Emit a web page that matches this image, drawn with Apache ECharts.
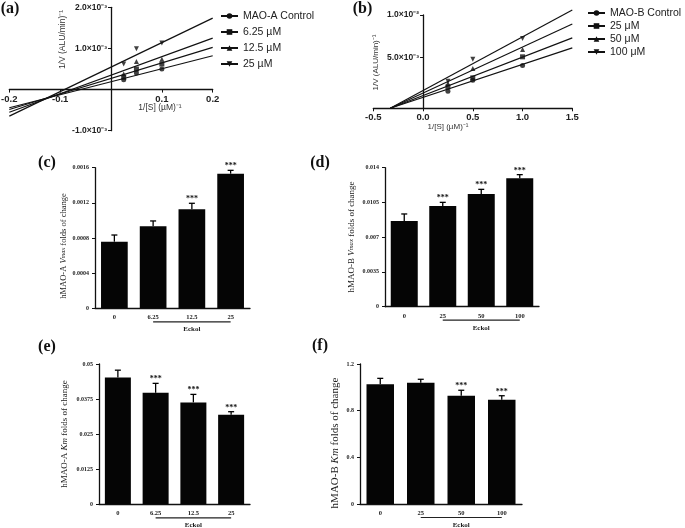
<!DOCTYPE html>
<html><head><meta charset="utf-8">
<script src="https://cdn.jsdelivr.net/npm/echarts@6/dist/echarts.min.js"></script>
<style>html,body{margin:0;padding:0;background:#fff}#c{width:685px;height:528px}</style>
</head><body><div id="c"></div>
<script>
// ---------- Panel (a): Lineweaver-Burk, MAO-A ----------
const aNames = ['MAO-A Control', '6.25 µM', '12.5 µM', '25 µM'];
const aX = [0.025, 0.05, 0.1];
const aPoints = [
  [0.00024, 0.00040, 0.00050],
  [0.00030, 0.00050, 0.00062],
  [0.00038, 0.000685, 0.00074],
  [0.00062, 0.00099, 0.00113]
];
const aFitX = [-0.2, 0.2];
const aFitY = [
  [-0.000443, 0.000823],
  [-0.000484, 0.001024],
  [-0.00055, 0.001252],
  [-0.000646, 0.001736]
];
const aXRange = [-0.2, 0.2];
const aYRange = [-0.001, 0.002];
const aXTickValues = [-0.2, -0.1, 0.1, 0.2];
const aXTickLabels = ['-0.2', '-0.1', '0.1', '0.2'];
const aYTickValues = [-0.001, 0.001, 0.002];
const aYTickLabels = ['-1.0×10⁻³', '1.0×10⁻³', '2.0×10⁻³'];

// ---------- Panel (b): Lineweaver-Burk, MAO-B ----------
const bNames = ['MAO-B Control', '25 μM', '50 μM', '100 μM'];
const bX = [0.25, 0.5, 1.0];
const bPoints = [
  [0.00102, 0.00231, 0.00405],
  [0.00152, 0.00259, 0.00507],
  [0.00192, 0.00370, 0.00594],
  [0.00220, 0.00477, 0.00724]
];
const bFitX = [-0.33, 1.5];
const bFitY = [
  [-0.001, 0.00613],
  [-0.001, 0.00731],
  [-0.001, 0.00893],
  [-0.001, 0.01058]
];
const bXRange = [-0.5, 1.5];
const bYRange = [-0.001, 0.01];
const bXTickValues = [-0.5, 0, 0.5, 1.0, 1.5];
const bXTickLabels = ['-0.5', '0.0', '0.5', '1.0', '1.5'];
const bYTickValues = [0.005, 0.01];
const bYTickLabels = ['5.0×10⁻³', '1.0×10⁻²'];

// ---------- Panels (c)-(f): bar charts ----------
const cCats = ['0', '6.25', '12.5', '25'];
const cVals = [0.000758, 0.000933, 0.001127, 0.001532];
const cErr  = [0.000834, 0.000994, 0.001195, 0.00157];
const cSig  = ['', '', '***', '***'];
const cYTicks = ['0', '0.0004', '0.0008', '0.0012', '0.0016'];

const dCats = ['0', '25', '50', '100'];
const dVals = [0.00863, 0.01014, 0.01135, 0.01293];
const dErr  = [0.00934, 0.01051, 0.01182, 0.0133];
const dSig  = ['', '***', '***', '***'];
const dYTicks = ['0', '0.0035', '0.007', '0.0105', '0.014'];

const eCats = ['0', '6.25', '12.5', '25'];
const eVals = [0.04523, 0.03974, 0.03632, 0.0319];
const eErr  = [0.0478, 0.0431, 0.03917, 0.033];
const eSig  = ['', '***', '***', '***'];
const eYTicks = ['0', '0.0125', '0.025', '0.0375', '0.05'];

const fCats = ['0', '25', '50', '100'];
const fVals = [1.026, 1.04, 0.928, 0.894];
const fErr  = [1.077, 1.069, 0.975, 0.928];
const fSig  = ['', '', '***', '***'];
const fYTicks = ['0', '0.4', '0.8', '1.2'];

const groupSpan = [1, 3];
const groupLabel = 'Eckol';

// ---------- helpers ----------
const SANS = 'Liberation Sans';
const SERIF = 'Liberation Serif';
const INK = '#111';
const syms = ['circle', 'rect', 'triangle', 'path://M0,0L10,0L5,9Z'];

function lookup(values, labels) {
  return function (v) {
    for (let k = 0; k < values.length; k++) if (Math.abs(values[k] - v) < 1e-9) return labels[k];
    return '';
  };
}

const grids = [
  { left: 9.3, top: 7.3, width: 203.4, height: 123.4 },   // a
  { left: 373.3, top: 15, width: 199, height: 93.3 },      // b
  { left: 95, top: 167.7, width: 155, height: 140.6 },     // c
  { left: 385, top: 167.7, width: 154, height: 139 },      // d
  { left: 99, top: 364, width: 151, height: 140.3 },       // e
  { left: 360, top: 364, width: 162, height: 140 }         // f
].map(function (g) { return Object.assign({ outerBoundsMode: 'none', containLabel: false }, g); });

// offset that puts an axis through the value 0 of the crossing axis
function zeroOffset(len, range) { return -len * (0 - range[0]) / (range[1] - range[0]); }

const lineAxis = { lineStyle: { color: INK, width: 1.3 } };

const xAxes = [
  { gridIndex: 0, type: 'value', min: aXRange[0], max: aXRange[1], interval: 0.1, position: 'bottom',
    offset: zeroOffset(grids[0].height, aYRange),
    axisLine: Object.assign({ show: true, onZero: false }, lineAxis),
    axisTick: { show: true, length: 3, lineStyle: { color: INK } },
    axisLabel: { formatter: lookup(aXTickValues, aXTickLabels), fontFamily: SANS, fontWeight: 'bold', fontSize: 9.5, color: '#222', margin: 5 },
    splitLine: { show: false } },
  { gridIndex: 1, type: 'value', min: bXRange[0], max: bXRange[1], interval: 0.5, position: 'bottom',
    axisLine: Object.assign({ show: true, onZero: false }, lineAxis),
    axisTick: { show: true, length: 3, lineStyle: { color: INK } },
    axisLabel: { formatter: lookup(bXTickValues, bXTickLabels), fontFamily: SANS, fontWeight: 'bold', fontSize: 9.5, color: '#222', margin: 4 },
    splitLine: { show: false } }
];
const yAxes = [
  { gridIndex: 0, type: 'value', min: aYRange[0], max: aYRange[1], interval: 0.001, position: 'left',
    offset: zeroOffset(grids[0].width, aXRange),
    axisLine: Object.assign({ show: true, onZero: false }, lineAxis),
    axisTick: { show: true, length: 3, lineStyle: { color: INK } },
    axisLabel: { formatter: lookup(aYTickValues, aYTickLabels), fontFamily: SANS, fontWeight: 'bold', fontSize: 8.5, color: '#222', margin: 4 },
    splitLine: { show: false } },
  { gridIndex: 1, type: 'value', min: bYRange[0], max: bYRange[1], position: 'left',
    offset: zeroOffset(grids[1].width, bXRange),
    axisLine: Object.assign({ show: true, onZero: false }, lineAxis),
    axisTick: { show: true, length: 3, lineStyle: { color: INK }, customValues: bYTickValues },
    axisLabel: { formatter: lookup(bYTickValues, bYTickLabels), customValues: bYTickValues, fontFamily: SANS, fontWeight: 'bold', fontSize: 8.5, color: '#222', margin: 4 },
    splitLine: { show: false } }
];

const series = [];
const legendA = [], legendB = [];
function addKinetics(names, xs, pts, fitX, fitY, axisIdx, legendList) {
  names.forEach(function (nm, i) {
    legendList.push(nm);
    series.push({
      name: nm, type: 'line', xAxisIndex: axisIdx, yAxisIndex: axisIdx,
      data: fitX.map(function (x, k) { return [x, fitY[i][k]]; }),
      symbol: syms[i], showSymbol: false, clip: false, silent: true,
      lineStyle: { color: INK, width: 1.2 }, itemStyle: { color: INK }
    });
    series.push({
      name: nm + ' data', type: 'scatter', xAxisIndex: axisIdx, yAxisIndex: axisIdx,
      data: xs.map(function (x, k) { return [x, pts[i][k]]; }),
      symbol: syms[i], symbolSize: 5, itemStyle: { color: INK }, silent: true
    });
  });
}
addKinetics(aNames, aX, aPoints, aFitX, aFitY, 0, legendA);
addKinetics(bNames, bX, bPoints, bFitX, bFitY, 1, legendB);

const barPanels = [
  { cats: cCats, vals: cVals, err: cErr, sig: cSig, ticks: cYTicks, max: 0.0016, interval: 0.0004, bw: 26.7 },
  { cats: dCats, vals: dVals, err: dErr, sig: dSig, ticks: dYTicks, max: 0.014, interval: 0.0035, bw: 27 },
  { cats: eCats, vals: eVals, err: eErr, sig: eSig, ticks: eYTicks, max: 0.05, interval: 0.0125, bw: 26 },
  { cats: fCats, vals: fVals, err: fErr, sig: fSig, ticks: fYTicks, max: 1.2, interval: 0.4, bw: 27.5 }
];

barPanels.forEach(function (p, j) {
  const ai = j + 2;
  xAxes.push({ gridIndex: ai, type: 'category', data: p.cats,
    axisLine: Object.assign({ show: true }, lineAxis), axisTick: { show: false },
    axisLabel: { fontFamily: SERIF, fontWeight: 'bold', fontSize: 6.5, color: '#222', margin: 6 } });
  yAxes.push({ gridIndex: ai, type: 'value', min: 0, max: p.max, interval: p.interval,
    axisLine: Object.assign({ show: true }, lineAxis),
    axisTick: { show: true, length: 3, lineStyle: { color: INK } },
    axisLabel: { formatter: (function (t) { return function (v, idx) { return t[idx]; }; })(p.ticks),
      fontFamily: SERIF, fontWeight: 'bold', fontSize: 6, color: '#222', margin: 6 },
    splitLine: { show: false } });
  series.push({ type: 'bar', xAxisIndex: ai, yAxisIndex: ai, data: p.vals, barWidth: p.bw,
    itemStyle: { color: '#050505' }, silent: true });
  series.push({ type: 'custom', xAxisIndex: ai, yAxisIndex: ai, clip: false, silent: true,
    data: p.vals.map(function (v, k) { return [k, v, p.err[k]]; }),
    renderItem: function (params, api) {
      const i = api.value(0);
      const base = api.coord([i, api.value(1)]);
      const top = api.coord([i, api.value(2)]);
      const ch = [
        { type: 'line', shape: { x1: top[0], y1: base[1], x2: top[0], y2: top[1] }, style: { stroke: '#000', lineWidth: 1.3 } },
        { type: 'line', shape: { x1: top[0] - 3, y1: top[1], x2: top[0] + 3, y2: top[1] }, style: { stroke: '#000', lineWidth: 1.3 } }
      ];
      const s = p.sig[params.dataIndex];
      if (s) ch.push({ type: 'text', x: top[0], y: top[1] - 4,
        style: { text: s, font: 'bold 8px "Liberation Serif"', fill: '#111', align: 'center', verticalAlign: 'middle' } });
      return { type: 'group', children: ch };
    } });
  series.push({ type: 'custom', xAxisIndex: ai, yAxisIndex: ai, clip: false, silent: true,
    data: [[groupSpan[0], groupSpan[1]]],
    renderItem: function (params, api) {
      const p1 = api.coord([api.value(0), 0]);
      const p2 = api.coord([api.value(1), 0]);
      const y = p1[1] + 13.5;
      return { type: 'group', children: [
        { type: 'line', shape: { x1: p1[0], y1: y, x2: p2[0], y2: y }, style: { stroke: '#222', lineWidth: 1.2 } },
        { type: 'text', x: (p1[0] + p2[0]) / 2, y: y + 7.5,
          style: { text: groupLabel, font: 'bold 7px "Liberation Serif"', fill: '#222', align: 'center', verticalAlign: 'middle' } }
      ] };
    } });
});

// ---------- texts ----------
function label(t, x, y) {
  return { type: 'text', x: x, y: y, silent: true,
    style: { text: t, font: 'bold 16px "Liberation Serif"', fill: '#111', align: 'center', verticalAlign: 'middle' } };
}
function vname(t, x, y, font, rich) {
  return { type: 'text', x: x, y: y, rotation: Math.PI / 2, silent: true,
    style: { text: t, font: font, fill: '#333', align: 'center', verticalAlign: 'middle', rich: rich } };
}
function richSerif(size) {
  return {
    n: { fontFamily: SERIF, fontSize: size, fill: '#222', color: '#222' },
    i: { fontFamily: SERIF, fontSize: size, fontStyle: 'italic', fill: '#222', color: '#222' },
    s: { fontFamily: SERIF, fontSize: size * 0.75, fontStyle: 'italic', fill: '#222', color: '#222' }
  };
}

const graphics = [
  label('(a)', 10, 9), label('(b)', 362.5, 9), label('(c)', 47, 162.5),
  label('(d)', 320, 163), label('(e)', 47, 346.5), label('(f)', 320, 346),
  vname('1/V (ALU/min)⁻¹', 62.5, 39.5, '8.5px "Liberation Sans"'),
  { type: 'text', x: 160, y: 108, silent: true, style: { text: '1/[S] (µM)⁻¹', font: '8.5px "Liberation Sans"', fill: '#333', align: 'center', verticalAlign: 'middle' } },
  vname('1/V (ALU/min)⁻¹', 376, 62.5, '8px "Liberation Sans"'),
  { type: 'text', x: 448, y: 127, silent: true, style: { text: '1/[S] (µM)⁻¹', font: '8px "Liberation Sans"', fill: '#333', align: 'center', verticalAlign: 'middle' } },
  vname('{n|hMAO-A }{i|V}{s|max}{n| folds of change}', 63.5, 246, '8.5px "Liberation Serif"', richSerif(8.5)),
  vname('{n|hMAO-B }{i|V}{s|max}{n| folds of change}', 351.5, 237, '9px "Liberation Serif"', richSerif(9)),
  vname('{n|hMAO-A }{i|Km}{n| folds of change}', 64.5, 434, '9px "Liberation Serif"', richSerif(9)),
  vname('{n|hMAO-B }{i|Km}{n| folds of change}', 335.5, 443, '11px "Liberation Serif"', richSerif(11))
];

const option = {
  animation: false,
  backgroundColor: '#fff',
  textStyle: { fontFamily: SANS },
  grid: grids,
  xAxis: xAxes,
  yAxis: yAxes,
  legend: [
    { data: legendA, orient: 'vertical', left: 220, top: 10, padding: 0, itemWidth: 17, itemHeight: 7, itemGap: 4,
      textStyle: { fontFamily: SANS, fontSize: 10.5, color: '#222', lineHeight: 12 }, selectedMode: false },
    { data: legendB, orient: 'vertical', left: 587, top: 7, padding: 0, itemWidth: 17, itemHeight: 7, itemGap: 1,
      textStyle: { fontFamily: SANS, fontSize: 10.5, color: '#222', lineHeight: 12 }, selectedMode: false }
  ],
  graphic: graphics,
  series: series
};
const chart = echarts.init(document.getElementById('c'));
chart.setOption(option);
</script>
</body></html>
